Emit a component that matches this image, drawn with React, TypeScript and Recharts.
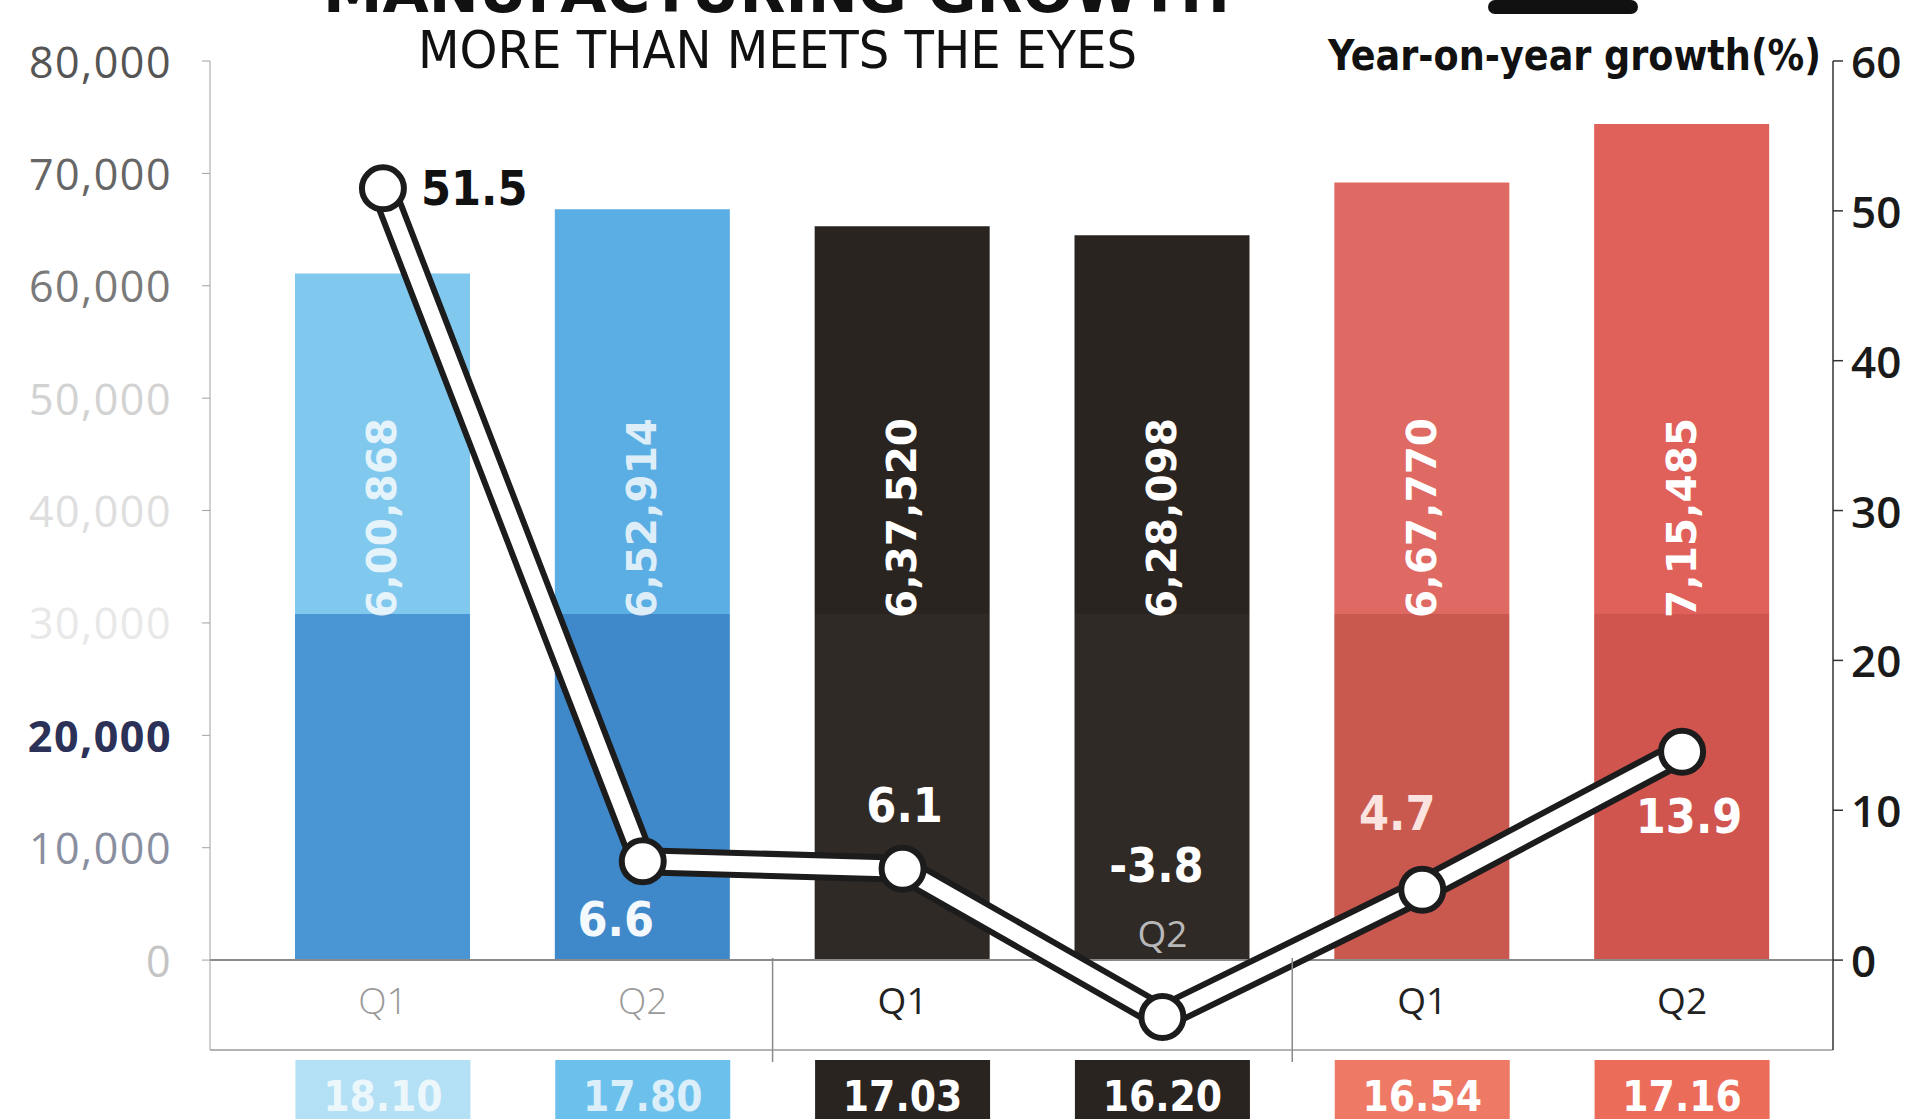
import React from 'react';
import { ComposedChart, Bar, Line, XAxis, YAxis, Cell, LabelList, ReferenceLine } from 'recharts';

// quarters per fiscal year, bars are manufacturing GVA, line is y-o-y growth
const quarters = ['Q1', 'Q2', 'Q1', 'Q2', 'Q1', 'Q2'];
const fiscalYears = ['FY22', 'FY22', 'FY23', 'FY23', 'FY24', 'FY24'];
const gvaLabels = ['6,00,868', '6,52,914', '6,37,520', '6,28,098', '6,67,770', '7,15,485'];
const barHeights = [61100, 66800, 65300, 64500, 69200, 74400];
const darkBand = [30800, 30800, 30800, 30800, 30800, 30800];
const growth = [51.5, 6.6, 6.1, -3.8, 4.7, 13.9];
const shares = ['18.10', '17.80', '17.03', '16.20', '16.54', '17.16'];
const leftTicks = [0, 10000, 20000, 30000, 40000, 50000, 60000, 70000, 80000];
const rightTicks = [0, 10, 20, 30, 40, 50, 60];

const data = quarters.map((q, i) => ({
  key: `${fiscalYears[i]} ${q}`,
  lower: darkBand[i],
  upper: barHeights[i] - darkBand[i],
  growth: growth[i],
  label: gvaLabels[i],
}));

const upperColors = ['#80c8ee', '#5aaee4', '#2a2421', '#2a2421', '#df6a63', '#e0605a'];
const lowerColors = ['#4a95d4', '#3f88c9', '#302a27', '#302a27', '#c9584f', '#cf554e'];
const boxColors = ['#b4e0f5', '#6cc0ec', '#2a2421', '#2a2421', '#ee7a66', '#ec6c5a'];
const leftTickColors = ['#c4c4c4', '#8a8fa0', '#2b3157', '#e8e8e8', '#dedede', '#d2d2d2', '#7a7a7a', '#666', '#555'];
const growthLabelPos = [
  { dx: 38, dy: 0, anchor: 'start', fill: '#111' },
  { dx: -27, dy: 58, anchor: 'middle', fill: '#f4f9fd' },
  { dx: 2, dy: -64, anchor: 'middle', fill: '#fff' },
  { dx: -6, dy: -152, anchor: 'middle', fill: '#fff' },
  { dx: -25, dy: -77, anchor: 'middle', fill: '#fbe3df' },
  { dx: 7, dy: 64, anchor: 'middle', fill: '#fff' },
];

const NARROW = "'Liberation Sans Narrow', 'DejaVu Sans Condensed', 'Open Sans', sans-serif";
const SANS = "'Open Sans', 'Noto Sans', sans-serif";
const HALF_BAND = 130;
const BAR_W = 175;

const LeftTick = ({ x, y, payload }: any) => {
  const i = leftTicks.indexOf(payload.value);
  return (
    <text x={x} y={y} textAnchor="end" dominantBaseline="central" fontFamily={SANS}
      fontSize={43} fontWeight={i === 2 ? 700 : 400} letterSpacing={1.5} fill={leftTickColors[i]}>
      {payload.value.toLocaleString('en-US')}
    </text>
  );
};

const RightTick = ({ x, y, payload }: any) => (
  <text x={x} y={y} textAnchor="start" dominantBaseline="central" fontFamily={SANS}
    fontSize={44} fontWeight={600} fill="#1a1a1a">
    {payload.value}
  </text>
);

const QuarterTick = ({ x, y, payload }: any) => {
  const i = payload.index;
  const lifted = growth[i] < 0;
  const newYear = i > 0 && fiscalYears[i] !== fiscalYears[i - 1];
  return (
    <g>
      {newYear && (
        <line x1={x - HALF_BAND} x2={x - HALF_BAND} y1={y - 92} y2={y + 12} stroke="#8a8a8a" strokeWidth={1.5} />
      )}
      <text x={x} y={lifted ? y - 118 : y - 51} textAnchor="middle" dominantBaseline="central"
        fontFamily={SANS} fontSize={37} fontWeight={i < 2 ? 300 : 500}
        fill={lifted ? '#b8b8b8' : i < 2 ? '#9a9a9a' : '#222'}>
        {quarters[i]}
      </text>
      <rect x={x - BAR_W / 2} y={y + 10} width={BAR_W} height={80} fill={boxColors[i]} />
      <text x={x} y={y + 46} textAnchor="middle" dominantBaseline="central" fontFamily={NARROW}
        fontSize={42} fontWeight={700} fill="#fff" opacity={i < 2 ? 0.75 : 1}>
        {shares[i]}
      </text>
    </g>
  );
};

const renderBarLabel = (props: any) => {
  const { x, y, width, height, index, value } = props;
  const cx = x + width / 2;
  const base = y + height + 4;
  return (
    <text x={cx} y={base} transform={`rotate(-90 ${cx} ${base})`} textAnchor="start"
      dominantBaseline="central" fontFamily={NARROW} fontSize={40} fontWeight={700}
      fill="#fff" opacity={index < 2 ? 0.8 : 1} textLength={200} lengthAdjust="spacingAndGlyphs">
      {value}
    </text>
  );
};

const renderGrowthLabel = (props: any) => {
  const { x, y, index, value } = props;
  const p = growthLabelPos[index];
  return (
    <text x={x + p.dx} y={y + p.dy} textAnchor={p.anchor} dominantBaseline="central"
      fontFamily={NARROW} fontSize={48} fontWeight={700} fill={p.fill}>
      {Number(value).toFixed(1)}
    </text>
  );
};

export default function App() {
  return (
    <div style={{ position: 'absolute', left: 0, top: 0, width: 1910, height: 1119, overflow: 'hidden', background: '#fff' }}>
      <ComposedChart width={1910} height={1119} data={data} margin={{ top: 61, right: 0, bottom: 0, left: 0 }}>
        <XAxis dataKey="key" height={69} interval={0} tick={<QuarterTick />} tickLine={false}
          tickSize={0} tickMargin={0} axisLine={{ stroke: '#9a9a9a', strokeWidth: 1.5 }}
          padding={{ left: 43, right: 21 }} />
        <YAxis yAxisId="left" orientation="left" width={210} domain={[-8000, 80000]} ticks={leftTicks}
          tick={<LeftTick />} tickSize={8} tickMargin={30} axisLine={{ stroke: '#a0a0a0' }}
          tickLine={{ stroke: '#a0a0a0' }} />
        <YAxis yAxisId="right" orientation="right" width={77} domain={[-6, 60]} ticks={rightTicks}
          tick={<RightTick />} tickSize={10} tickMargin={8} axisLine={{ stroke: '#333', strokeWidth: 1.5 }}
          tickLine={{ stroke: '#333', strokeWidth: 1.5 }} />
        <Bar yAxisId="left" dataKey="lower" stackId="gva" barSize={BAR_W} isAnimationActive={false}>
          {data.map((d, i) => <Cell key={d.key} fill={lowerColors[i]} />)}
        </Bar>
        <Bar yAxisId="left" dataKey="upper" stackId="gva" barSize={BAR_W} isAnimationActive={false}>
          {data.map((d, i) => <Cell key={d.key} fill={upperColors[i]} />)}
          <LabelList dataKey="label" content={renderBarLabel} />
        </Bar>
        <ReferenceLine yAxisId="left" y={0} stroke="#8a8a8a" strokeWidth={2} />
        <Line yAxisId="right" dataKey="growth" stroke="#1c1c1c" strokeWidth={28} dot={false}
          strokeLinejoin="round" isAnimationActive={false} />
        <Line yAxisId="right" dataKey="growth" stroke="#fff" strokeWidth={16} strokeLinejoin="round"
          dot={{ r: 21, fill: '#fff', stroke: '#1c1c1c', strokeWidth: 6 }} isAnimationActive={false}>
          <LabelList dataKey="growth" content={renderGrowthLabel} />
        </Line>
      </ComposedChart>
      <svg width={1910} height={1119} style={{ position: 'absolute', left: 0, top: 0, pointerEvents: 'none' }}>
        <text x={323} y={12} fontFamily={NARROW} fontSize={58} fontWeight={900} fill="#111"
          textLength={907} lengthAdjust="spacingAndGlyphs">MANUFACTURING GROWTH</text>
        <text x={418} y={68} fontFamily={NARROW} fontSize={52} fill="#111"
          textLength={719} lengthAdjust="spacingAndGlyphs">MORE THAN MEETS THE EYES</text>
        <rect x={1488} y={0} width={150} height={14} rx={7} fill="#111" />
        <text x={1328} y={70} fontFamily={NARROW} fontSize={42} fontWeight={700} fill="#111"
          textLength={493} lengthAdjust="spacingAndGlyphs">Year-on-year growth(%)</text>
      </svg>
    </div>
  );
}
